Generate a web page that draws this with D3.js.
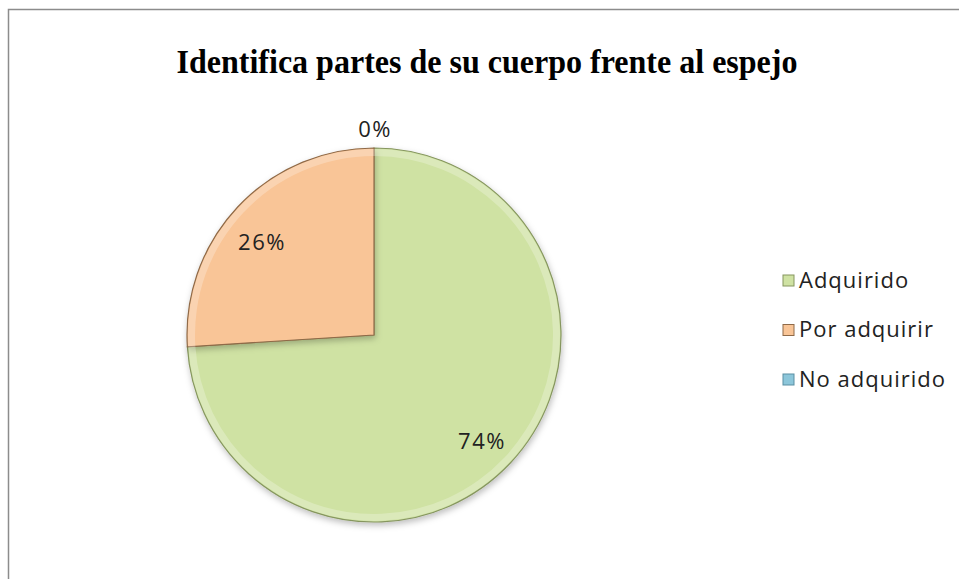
<!DOCTYPE html>
<html>
<head>
<meta charset="utf-8">
<script src="https://cdn.jsdelivr.net/npm/d3@7"></script>
<style>
  body { margin: 0; background: #fff; }
</style>
</head>
<body>
<svg width="959" height="579"></svg>
<script>
const categories = ["Adquirido", "Por adquirir", "No adquirido"];
const values = [74, 26, 0];
const labels = ["74%", "26%", "0%"];
const colors = ["#cfe2a3", "#f9c597", "#8cc6da"];
const strokes = ["#86965f", "#8f6a48", "#5a8fa3"];

const svg = d3.select("svg");
const width = +svg.attr("width");
const height = +svg.attr("height");

// frame
svg.append("path")
    .attr("d", `M8.5,${height} V9.5 H${width}`)
    .attr("fill", "none")
    .attr("stroke", "#8c8c8c")
    .attr("stroke-width", 1.5);

// title
svg.append("text")
    .attr("x", 487)
    .attr("y", 73)
    .attr("text-anchor", "middle")
    .attr("font-family", "Liberation Serif")
    .attr("font-weight", "bold")
    .attr("font-size", 33)
    .attr("textLength", 621)
    .attr("lengthAdjust", "spacingAndGlyphs")
    .text("Identifica partes de su cuerpo frente al espejo");

const defs = svg.append("defs");
const shadow = defs.append("filter").attr("id", "shadow")
    .attr("x", "-10%").attr("y", "-10%").attr("width", "120%").attr("height", "120%");
shadow.append("feDropShadow")
    .attr("dx", 1).attr("dy", 3).attr("stdDeviation", 3)
    .attr("flood-color", "#000").attr("flood-opacity", 0.25);

const cx = 374, cy = 335, r = 187;
const g = svg.append("g").attr("transform", `translate(${cx},${cy})`);

const pie = d3.pie().sort(null).value(d => d)(values);
const arc = d3.arc().innerRadius(0).outerRadius(r);

g.selectAll("path.slice")
  .data(pie)
  .enter().append("path")
    .attr("class", "slice")
    .attr("d", arc)
    .attr("fill", (d, i) => colors[i])
    .attr("stroke", (d, i) => strokes[i])
    .attr("stroke-width", 1.2)
    .attr("filter", "url(#shadow)");

// subtle bevel highlight along the edges
const bevel = d3.arc().innerRadius(r - 8).outerRadius(r - 1);
g.selectAll("path.bevel")
  .data(pie.filter(d => d.value > 0))
  .enter().append("path")
    .attr("class", "bevel")
    .attr("d", bevel)
    .attr("fill", "#fff")
    .attr("opacity", 0.25);

// labels
const labelPos = [[108, 106], [-112, -93], [1, -206]];
g.selectAll("text.lbl")
  .data(pie)
  .enter().append("text")
    .attr("class", "lbl")
    .attr("x", (d, i) => labelPos[i][0])
    .attr("y", (d, i) => labelPos[i][1])
    .attr("text-anchor", "middle")
    .attr("dy", "0.35em")
    .attr("font-family", "'Open Sans', sans-serif")
    .attr("font-size", 22)
    .attr("letter-spacing", 1.5)
    .attr("fill", "#222")
    .text((d, i) => labels[i]);

// legend
const legendY = d3.scalePoint().domain(categories).range([280, 379]);
const legend = svg.append("g");
const item = legend.selectAll("g")
  .data(categories)
  .enter().append("g")
    .attr("transform", d => `translate(783,${legendY(d)})`);
item.append("rect")
    .attr("x", 0).attr("y", -5)
    .attr("width", 11).attr("height", 11)
    .attr("fill", (d, i) => colors[i])
    .attr("stroke", (d, i) => strokes[i])
    .attr("stroke-width", 1);
item.append("text")
    .attr("x", 16)
    .attr("dy", "0.35em")
    .attr("font-family", "'Open Sans', sans-serif")
    .attr("font-size", 22)
    .attr("letter-spacing", 1)
    .attr("fill", "#222")
    .text(d => d);
</script>
</body>
</html>
